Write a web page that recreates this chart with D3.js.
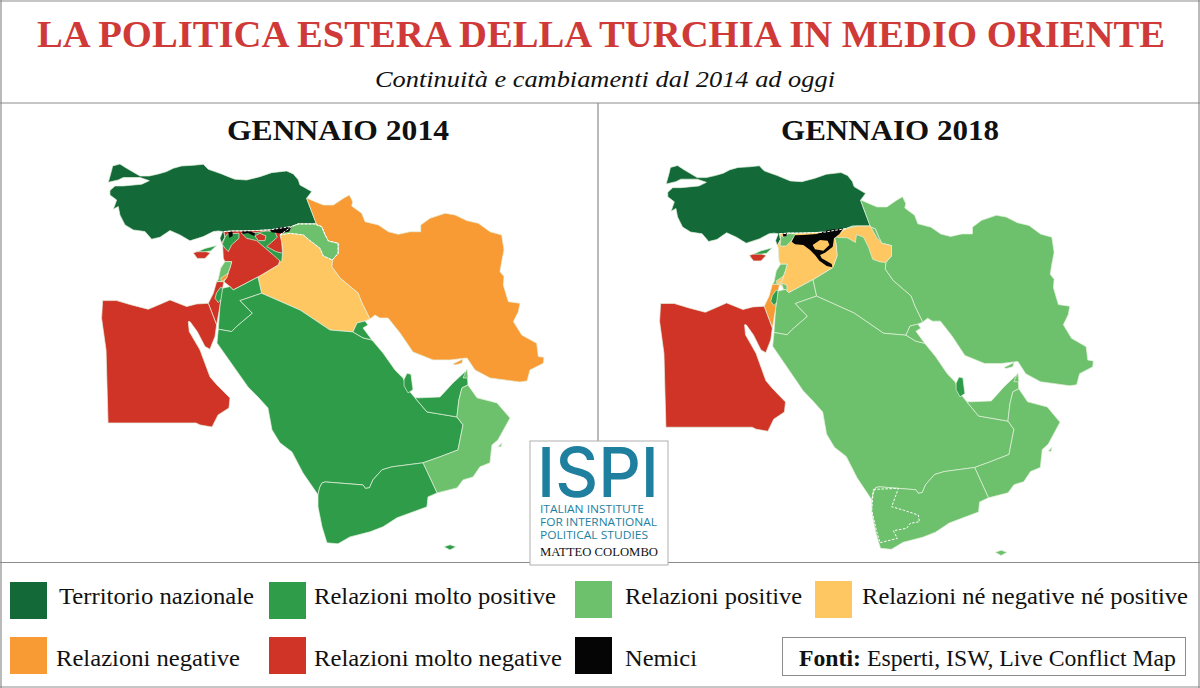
<!DOCTYPE html>
<html>
<head>
<meta charset="utf-8">
<title>La politica estera della Turchia in Medio Oriente</title>
<script src="https://cdn.jsdelivr.net/npm/d3@7"></script>
<style>
html, body { margin: 0; padding: 0; background: #fff; }
svg { display: block; }
text { font-family: "Liberation Serif", serif; fill: #111; }
</style>
</head>
<body>
<script>
// relation categories
var statusKeys = ['national', 'veryPositive', 'positive', 'neutral', 'negative', 'veryNegative', 'enemy'];
var statusColors = ['#136a38', '#2f9c4a', '#6dc06c', '#fec762', '#f99b35', '#cf3427', '#050505'];
var legendLabels = ['Territorio nazionale', 'Relazioni molto positive', 'Relazioni positive', 'Relazioni né negative né positive',
    'Relazioni negative', 'Relazioni molto negative', 'Nemici'];

// outlines as [lon, lat]
var turkey = [[29.11,41.17],[29.88,41.33],[30.58,41.51],[31.15,41.77],[31.86,41.95],[32.85,42.00],[33.71,42.08],[34.13,41.69],[34.70,41.51],[35.27,41.33],[35.83,41.12],[36.40,40.92],[37.39,40.86],[38.53,41.12],[39.52,41.43],[40.80,41.56],[41.37,41.33],[41.79,40.87],[41.93,40.48],[42.93,39.96],[42.50,39.44],[42.93,38.41],[43.35,37.45],[42.22,37.45],[41.79,37.45],[41.22,37.25],[40.23,37.12],[39.38,36.99],[38.24,36.94],[37.11,36.91],[36.26,36.91],[35.46,36.86],[35.55,36.42],[35.27,35.95],[35.12,36.34],[35.35,36.86],[34.98,36.91],[34.56,36.86],[33.71,36.47],[32.57,36.14],[31.72,36.60],[30.87,36.94],[30.02,36.42],[29.31,36.27],[28.74,36.86],[27.75,36.99],[27.04,37.38],[26.61,38.15],[26.47,38.80],[26.05,38.59],[26.33,39.31],[25.76,39.70],[25.76,40.04],[26.19,40.40],[26.90,40.40],[28.46,40.53],[29.11,40.81],[28.32,41.05],[26.90,41.05],[26.47,40.86],[25.62,40.68],[25.90,41.59],[25.99,41.95],[26.61,42.10],[27.18,41.77],[28.32,41.17]];
var iran = [[42.56,39.44],[43.22,39.18],[43.93,38.92],[44.78,38.92],[45.63,39.44],[46.14,39.70],[46.42,39.18],[46.34,38.84],[47.19,38.28],[47.47,37.63],[48.61,37.37],[49.46,36.85],[50.31,36.65],[51.30,36.85],[52.21,36.85],[52.21,37.37],[53.00,37.89],[54.28,38.28],[55.13,38.15],[56.12,37.71],[57.12,37.50],[58.11,36.85],[59.10,36.60],[59.30,35.43],[59.10,34.53],[58.96,33.75],[59.30,33.37],[59.24,32.72],[59.67,31.43],[60.66,31.30],[60.52,30.65],[60.10,29.88],[60.81,28.84],[62.08,28.20],[62.22,27.17],[62.70,27.11],[62.65,26.65],[61.51,26.13],[61.26,25.28],[60.66,25.2],[58.11,25.51],[56.83,26.13],[56.15,27.06],[54.70,26.91],[53.26,26.91],[51.55,27.53],[50.45,29.0],[49.43,30.16],[48.74,30.16],[48.32,30.39],[47.89,30.08],[47.21,31.32],[46.87,32.1],[45.34,33.26],[44.64,34.14],[44.69,34.66],[45.18,35.17],[45.18,35.95],[44.35,36.13],[44.07,36.60],[43.78,37.24],[43.36,37.37],[42.93,38.41],[42.50,39.44]];
var qeshm = [[54.95,26.60],[55.81,26.98],[55.72,26.66],[55.13,26.52]];
var iraq = [[41.22,37.25],[41.79,37.45],[43.35,37.45],[43.36,37.37],[43.78,37.24],[44.07,36.60],[44.35,36.13],[45.18,35.95],[45.18,35.17],[44.69,34.66],[44.64,34.14],[45.34,33.26],[46.87,32.1],[47.21,31.32],[47.89,30.08],[47.47,29.93],[46.79,29.78],[46.44,29.08],[44.49,29.23],[41.94,30.78],[38.67,32.08],[38.36,33.34],[40.09,34.28],[40.46,35.18],[40.37,36.08],[40.23,36.60]];
var kurdistan2014 = [[40.23,36.60],[41.22,37.25],[41.79,37.45],[43.35,37.45],[43.36,37.37],[43.78,37.24],[44.07,36.60],[44.35,36.13],[45.18,35.95],[45.18,35.17],[44.69,34.66],[43.92,34.97],[43.63,35.57],[42.78,36.16],[42.22,36.60],[41.08,36.73]];
var kurdistan2018 = [[40.23,36.60],[41.22,37.25],[42.2,37.45],[43.35,37.45],[43.9,36.55],[44.35,36.13],[45.18,35.95],[45.18,35.17],[44.69,34.66],[44.2,34.7],[43.55,34.9],[43.2,35.8],[42.76,36.6],[42.14,36.8],[42.05,36.2],[41.34,36.55]];
var syria = [[35.35,35.83],[35.27,35.95],[35.55,36.42],[35.46,36.86],[36.26,36.91],[37.11,36.91],[38.24,36.94],[39.38,36.99],[40.23,37.12],[41.22,37.25],[40.23,36.60],[40.37,36.08],[40.46,35.18],[40.09,34.28],[38.36,33.34],[36.26,32.34],[35.97,32.6],[35.46,32.98],[35.69,33.37],[35.97,34.02],[36.12,34.53],[35.55,34.53],[35.41,34.79]];
var turkeySyriaBorder = [[35.46,36.86],[36.26,36.91],[37.11,36.91],[38.24,36.94],[39.38,36.99],[40.23,37.12],[41.22,37.25]];
var lebanon = [[34.98,33.16],[35.18,34.02],[35.55,34.53],[36.12,34.53],[35.97,34.02],[35.69,33.37],[35.46,32.98],[34.84,32.98]];
var southLebanon = [[35.18,33.24],[35.83,33.63],[35.69,33.24],[35.27,32.98]];
var israel = [[34.84,32.98],[35.46,32.98],[35.35,32.47],[35.12,31.05],[34.84,29.62],[34.13,31.30],[34.56,32.08]];
var westBank = [[34.84,32.13],[35.18,32.54],[35.35,32.47],[35.32,31.69],[34.98,31.36],[34.70,31.69]];
var jordan = [[38.36,33.34],[38.67,32.08],[36.83,31.51],[37.88,30.53],[36.54,29.50],[36.12,29.11],[34.98,29.29],[35.12,31.05],[35.35,32.47],[35.97,32.6],[36.26,32.34]];
var egypt = [[25.05,30.14],[25.14,31.51],[26.33,31.51],[27.61,31.17],[29.02,30.84],[29.88,31.17],[30.87,31.56],[32.29,31.05],[33.14,31.25],[34.13,31.30],[34.84,29.62],[34.70,28.72],[34.27,27.74],[33.85,27.95],[33.2,29.1],[32.57,29.88],[32.43,29.88],[32.51,29.11],[33.42,27.69],[34.28,25.59],[34.87,24.97],[35.98,23.96],[35.89,23.19],[34.96,22.64],[34.45,21.71],[33.43,21.87],[33.09,22.02],[25.6,22.02],[25.43,27.68]];
var saudi = [[34.98,29.29],[36.12,29.11],[36.54,29.50],[37.88,30.53],[36.83,31.51],[38.67,32.08],[41.94,30.78],[44.49,29.23],[46.44,29.08],[46.87,28.85],[47.30,28.62],[48.06,28.46],[49.0,27.45],[50.02,26.13],[50.70,25.50],[51.30,24.43],[51.72,23.97],[52.74,22.88],[55.29,22.49],[55.81,21.87],[55.38,19.93],[53.85,19.4],[52.40,18.93],[49.76,18.62],[48.91,18.39],[48.14,17.61],[47.85,17.0],[47.5,16.95],[47.30,17.22],[44.1,17.45],[43.81,17.38],[43.6,17.0],[43.47,16.45],[42.19,18.15],[41.25,19.78],[40.23,20.48],[39.55,21.49],[39.21,23.19],[38.36,24.04],[37.51,24.82],[34.87,28.23]];
var kuwait = [[46.44,29.08],[46.79,29.78],[47.47,29.93],[47.72,29.62],[47.30,29.39],[48.06,28.46],[47.30,28.62],[46.87,28.85]];
var qatar = [[50.79,25.4],[51.04,25.87],[51.38,25.8],[51.55,24.6],[51.13,24.35],[50.79,24.9]];
var uae = [[51.72,23.97],[52.15,23.97],[53.85,24.04],[54.96,25.13],[56.15,26.13],[56.23,24.97],[55.72,24.74],[55.46,23.81],[55.29,22.49],[52.74,22.88]];
var oman = [[52.40,18.93],[53.85,19.4],[55.38,19.93],[55.81,21.87],[55.29,22.49],[55.46,23.81],[55.72,24.74],[56.23,24.97],[57.0,23.97],[58.70,23.58],[59.81,22.41],[58.78,20.71],[58.27,20.32],[58.10,18.93],[57.25,18.62],[56.66,17.84],[55.81,17.61],[55.30,16.99],[53.60,16.6]];
var musandam = [[56.15,26.21],[56.24,25.51],[55.81,25.51]];
var masirah = [[58.78,20.17],[59.12,20.48],[59.04,20.17]];
var yemen = [[43.47,16.45],[43.6,17.0],[43.81,17.38],[44.1,17.45],[47.30,17.22],[47.5,16.95],[47.85,17.0],[48.14,17.61],[48.91,18.39],[49.76,18.62],[52.40,18.93],[53.60,16.6],[52.83,16.29],[52.74,15.52],[50.19,14.67],[49.0,13.97],[47.89,13.58],[46.19,13.19],[45.17,12.65],[44.23,12.73],[43.81,13.97],[43.47,15.52]];
var socotra = [[54.19,12.42],[54.70,12.58],[55.21,12.42],[54.70,12.18]];
var cyprusSouth = [[32.85,35.2],[33.3,35.35],[33.85,35.33],[34.3,35.2],[33.85,34.78],[33.2,34.78]];
var cyprusNorth = [[33.2,35.3],[33.85,35.55],[34.84,35.78],[34.33,35.36],[33.85,35.3]];

// Syrian front lines, 2014
var syriaNorth2014 = [[36.97,36.73],[38.24,36.78],[39.10,36.91],[39.80,36.86],[40.0,36.42],[39.10,35.70],[39.89,35.31],[40.46,35.18],[40.37,34.46],[39.66,35.05],[38.24,36.16],[37.39,36.34]];
var raqqaPocket2014 = [[38.10,36.52],[38.53,36.73],[39.04,36.52],[38.95,36.16],[38.39,36.16]];
var syriaWest2014 = [[35.32,35.88],[35.55,36.42],[35.75,36.68],[36.74,36.73],[36.74,36.34],[36.12,35.83],[35.83,35.31],[35.55,35.57]];
var enemyEast2014 = [[39.38,36.99],[40.23,37.20],[41.22,37.25],[41.02,36.86],[40.23,36.73],[39.52,36.81]];
var enemyMid2014 = [[37.0,36.86],[37.62,36.91],[38.10,36.73],[38.05,36.52],[37.53,36.73],[37.05,36.68]];
var enemyWest2014 = [[35.83,36.81],[36.20,36.86],[36.20,36.52],[35.92,36.39]];

// Syrian front lines, 2018
var enemyBelt2018 = [[36.52,36.25],[36.81,36.74],[37.53,36.77],[38.69,36.84],[39.70,37.15],[41.0,37.28],[40.66,36.84],[40.19,36.51],[40.08,35.87],[39.41,35.41],[38.98,35.23],[39.12,34.98],[39.99,34.54],[40.05,34.29],[39.56,34.39],[38.92,34.80],[38.54,35.23],[38.11,35.62],[37.53,36.0],[36.81,36.05]];
var enemyHole2018 = [[38.34,36.0],[38.98,36.38],[39.64,36.33],[39.79,36.0],[39.27,35.56],[38.54,35.67]];
var enemyWest2018 = [[35.74,36.89],[36.08,36.95],[36.08,36.69],[35.80,36.64]];
var syriaWest2018 = [[35.56,36.74],[35.80,36.59],[36.23,36.89],[36.87,36.84],[36.43,36.25],[36.03,35.92],[35.51,35.92],[35.56,36.33]];
var syriaSouth2018 = [[35.65,33.06],[36.08,32.93],[36.14,32.55],[35.80,32.6]];
var houthiArea2018 = [[43.61,17.25],[45.78,17.33],[45.2,15.92],[46.21,15.66],[47.51,15.28],[47.6,14.77],[46.79,14.64],[46.5,14.26],[45.34,14.08],[45.69,13.49],[44.19,13.16],[43.9,14.0],[43.46,15.66]];

// which category each shape has on each map, in drawing order
var shapes2014 = [turkey, iran, qeshm, iraq, kurdistan2014, syria, syriaNorth2014, raqqaPocket2014, syriaWest2014, enemyEast2014, enemyMid2014, enemyWest2014, lebanon, southLebanon, israel, westBank, jordan, egypt, saudi, kuwait, qatar, uae, oman, musandam, masirah, yemen, socotra, cyprusSouth, cyprusNorth];
var status2014 = ['national', 'negative', 'negative', 'neutral', 'positive', 'veryNegative', 'veryPositive', 'veryNegative', 'veryPositive', 'enemy', 'enemy', 'enemy', 'positive', 'negative', 'veryNegative', 'veryPositive', 'veryPositive', 'veryNegative', 'veryPositive', 'veryPositive', 'veryPositive', 'veryPositive', 'positive', 'positive', 'positive', 'veryPositive', 'veryPositive', 'veryNegative', 'veryPositive'];
var shapes2018 = [turkey, iran, qeshm, iraq, kurdistan2018, syria, syriaWest2018, syriaSouth2018, enemyWest2018, lebanon, southLebanon, israel, westBank, jordan, egypt, saudi, kuwait, qatar, uae, oman, musandam, masirah, yemen, socotra, cyprusSouth, cyprusNorth];
var status2018 = ['national', 'positive', 'positive', 'positive', 'neutral', 'neutral', 'positive', 'positive', 'enemy', 'positive', 'neutral', 'negative', 'veryPositive', 'positive', 'veryNegative', 'positive', 'positive', 'veryPositive', 'positive', 'positive', 'positive', 'positive', 'positive', 'positive', 'veryNegative', 'veryPositive'];

var width = 1200;
var height = 688;
var color = d3.scaleOrdinal(statusKeys, statusColors);

var svg = d3.select('body').append('svg')
    .attr('width', width)
    .attr('height', height);

svg.append('rect').attr('width', width).attr('height', height).attr('fill', '#fff');

function closed(ring) {
    return ring.concat([ring[0]]);
}

function polygon(rings) {
    return { type: 'Polygon', coordinates: rings.map(closed) };
}

function makePath(lonRange, latRange) {
    var xScale = d3.scaleLinear().domain([25, 60]).range(lonRange);
    var yScale = d3.scaleLinear().domain([42.1, 12.6]).range(latRange);
    var projection = d3.geoTransform({
        point: function (lon, lat) { this.stream.point(xScale(lon), yScale(lat)); }
    });
    return d3.geoPath(projection);
}

function drawMap(shapes, status, path) {
    var g = svg.append('g');
    g.selectAll('path')
        .data(shapes)
        .enter()
        .append('path')
            .attr('d', function (d) { return path(polygon([d])); })
            .attr('fill', function (d, i) { return color(status[i]); })
            .attr('stroke', function (d, i) { return status[i] == 'enemy' ? 'none' : '#e4f1dc'; })
            .attr('stroke-width', 0.7)
            .attr('stroke-linejoin', 'round');
    return g;
}

function dashedLine(g, path, geometry) {
    g.append('path')
        .attr('d', path(geometry))
        .attr('fill', 'none')
        .attr('stroke', '#fff')
        .attr('stroke-width', 1)
        .attr('stroke-dasharray', '2.5,1.5');
}

var path2014 = makePath([101, 512.25], [164, 544.5]);
var path2018 = makePath([659, 1062.2], [165.5, 550]);
var borderLine = { type: 'LineString', coordinates: turkeySyriaBorder };

var map2014 = drawMap(shapes2014, status2014, path2014);
dashedLine(map2014, path2014, polygon([kurdistan2014]));
dashedLine(map2014, path2014, borderLine);

var map2018 = drawMap(shapes2018, status2018, path2018);
map2018.append('path')
    .attr('d', path2018(polygon([enemyBelt2018, enemyHole2018])))
    .attr('fill', color('enemy'))
    .attr('fill-rule', 'evenodd');
dashedLine(map2018, path2018, polygon([houthiArea2018]));
dashedLine(map2018, path2018, borderLine);

// frame
var frameColor = '#8c8c8c';
var frameLines = [[0, 1, 1200, 1], [0, 687, 1200, 687], [1, 0, 1, 688], [1199, 0, 1199, 688], [0, 103, 1200, 103], [598, 103, 598, 441], [0, 562.5, 530, 562.5], [668, 562.5, 1200, 562.5]];
svg.selectAll('line.frame')
    .data(frameLines)
    .enter()
    .append('line')
        .attr('class', 'frame')
        .attr('x1', function (d) { return d[0]; })
        .attr('y1', function (d) { return d[1]; })
        .attr('x2', function (d) { return d[2]; })
        .attr('y2', function (d) { return d[3]; })
        .attr('stroke', frameColor)
        .attr('stroke-width', 1.2);

function label(text, x, y, size, fitWidth) {
    var t = svg.append('text')
        .attr('x', x)
        .attr('y', y)
        .attr('font-size', size)
        .text(text);
    if (fitWidth) {
        t.attr('textLength', fitWidth).attr('lengthAdjust', 'spacingAndGlyphs');
    }
    return t;
}

// header
label('LA POLITICA ESTERA DELLA TURCHIA IN MEDIO ORIENTE', 37, 47, 38, 1128)
    .style('fill', '#cf3a38').attr('font-weight', 'bold');
label('Continuità e cambiamenti dal 2014 ad oggi', 375, 87, 23, 460)
    .attr('font-style', 'italic');
label('GENNAIO 2014', 227, 140, 29, 222).attr('font-weight', 'bold');
label('GENNAIO 2018', 781, 140, 29, 218).attr('font-weight', 'bold');

// logo
svg.append('rect')
    .attr('x', 530).attr('y', 441).attr('width', 138).attr('height', 124)
    .attr('fill', '#fff').attr('stroke', '#b0b0b0').attr('stroke-width', 1);
var logoTeal = '#1f7f9f';
svg.append('text')
    .attr('x', 537).attr('y', 497)
    .attr('textLength', 122).attr('lengthAdjust', 'spacingAndGlyphs')
    .style('font-family', 'Inter, sans-serif').style('fill', logoTeal)
    .attr('font-size', 69).attr('font-weight', 500)
    .text('ISPI');
var logoLines = ['ITALIAN INSTITUTE', 'FOR INTERNATIONAL', 'POLITICAL STUDIES'];
var logoWidths = [104, 117, 108];
logoLines.forEach(function (line, i) {
    svg.append('text')
        .attr('x', 540).attr('y', 513 + i * 13.2)
        .attr('textLength', logoWidths[i]).attr('lengthAdjust', 'spacingAndGlyphs')
        .style('font-family', '"Open Sans", sans-serif').style('fill', logoTeal)
        .attr('font-size', 11.5)
        .text(line);
});
label('MATTEO COLOMBO', 540, 556, 12, 118);

// legend
var swatchX = [10, 269, 575, 815, 10, 269, 575];
var swatchY = [582, 582, 581, 581, 637, 637, 637];
var labelX = [59, 314, 625, 862, 56, 314, 625];
var labelWidth = [195, 242, 177, 326, 184, 248, 72];
statusKeys.forEach(function (key, i) {
    svg.append('rect')
        .attr('x', swatchX[i]).attr('y', swatchY[i])
        .attr('width', 37).attr('height', 37)
        .attr('fill', color(key));
    label(legendLabels[i], labelX[i], i < 4 ? 604 : 666, 24, labelWidth[i]);
});

// sources box
svg.append('rect')
    .attr('x', 782.5).attr('y', 637.5).attr('width', 403).attr('height', 38)
    .attr('fill', '#fff').attr('stroke', frameColor).attr('stroke-width', 1);
var sources = svg.append('text').attr('x', 799).attr('y', 666).attr('font-size', 24)
    .attr('textLength', 377).attr('lengthAdjust', 'spacingAndGlyphs');
sources.append('tspan').attr('font-weight', 'bold').text('Fonti:');
sources.append('tspan').text(' Esperti, ISW, Live Conflict Map');
</script>
</body>
</html>
